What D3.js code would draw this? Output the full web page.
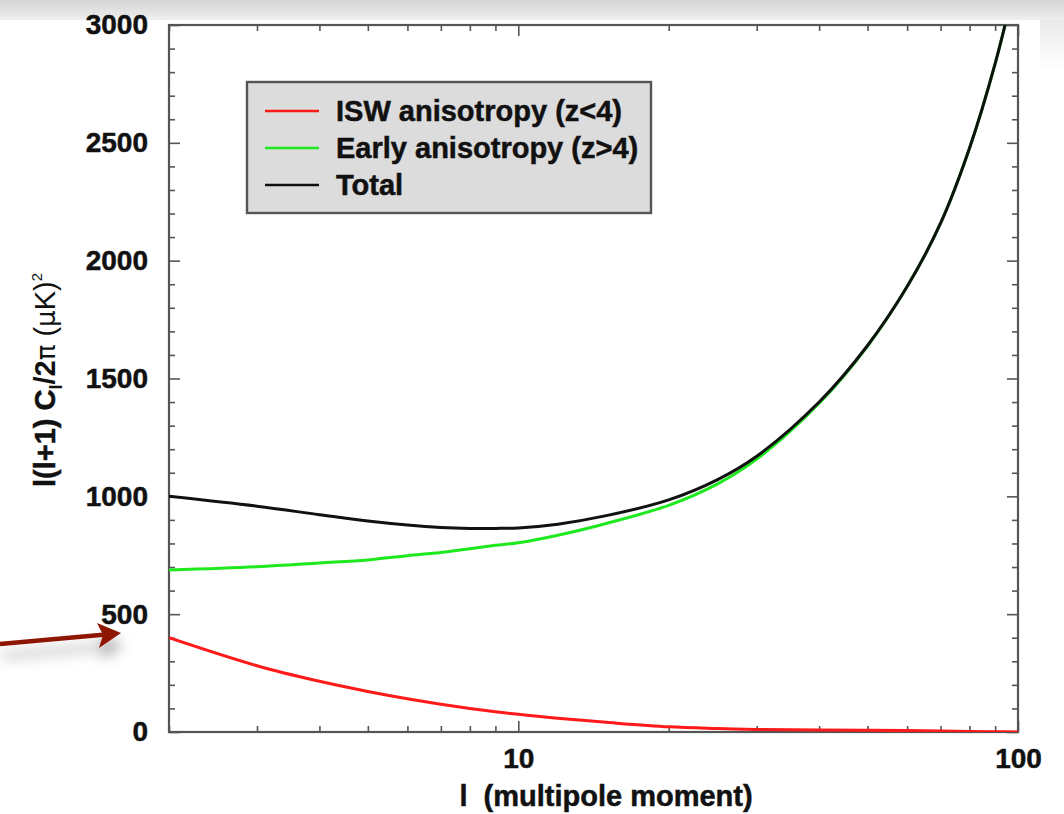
<!DOCTYPE html>
<html>
<head>
<meta charset="utf-8">
<script src="https://cdn.jsdelivr.net/npm/d3@7"></script>
<style>
  body { margin: 0; background: #fff; }
  svg { display: block; }
  text { font-family: "Liberation Sans", Arial, Helvetica, sans-serif; }
</style>
</head>
<body>
<div id="chart"></div>
<script>
// multipole moments and the three spectra
var ells = [2, 3, 4, 5, 6, 7, 8, 9, 10, 12, 15, 20, 25, 30, 40, 50, 60, 70, 80, 90, 100];
var iswVals   = [400, 281, 215, 172, 141, 118, 100, 86, 75, 58, 41, 22, 15, 11, 8, 7, 6, 4, 2, 1, 0];
var earlyVals = [687, 701, 717, 730, 748, 762, 778, 792, 803, 835, 885, 962, 1052, 1158, 1395, 1638, 1890, 2159, 2478, 2836, 3230];
var totalVals = [1000, 958, 922, 895, 878, 868, 864, 864, 866, 882, 918, 985, 1070, 1170, 1400, 1640, 1890, 2159, 2478, 2836, 3230];
var seriesNames = ["ISW anisotropy (z<4)", "Early anisotropy (z>4)", "Total"];
var seriesColors = ["#ff1a1a", "#1ee81e", "#111111"];
var xMajorTicks = [10, 100];
var yMajorTicks = [0, 500, 1000, 1500, 2000, 2500, 3000];

var W = 1064, H = 814;
var pLeft = 169, pRight = 1018, pTop = 25, pBottom = 732;

var svg = d3.select("#chart").append("svg")
    .attr("width", W)
    .attr("height", H);

var defs = svg.append("defs");

// slide shadow at the top
var g1 = defs.append("linearGradient").attr("id", "topShade")
    .attr("x1", 0).attr("y1", 0).attr("x2", 0).attr("y2", 1);
g1.append("stop").attr("offset", "0%").attr("stop-color", "#d4d4d4");
g1.append("stop").attr("offset", "100%").attr("stop-color", "#efefef");
var g2 = defs.append("linearGradient").attr("id", "sideShade")
    .attr("x1", 0).attr("y1", 0).attr("x2", 0).attr("y2", 1);
g2.append("stop").attr("offset", "0%").attr("stop-color", "#e2e2e2");
g2.append("stop").attr("offset", "100%").attr("stop-color", "#ffffff");

defs.append("clipPath").attr("id", "plotClip")
  .append("rect")
    .attr("x", pLeft).attr("y", pTop)
    .attr("width", pRight - pLeft).attr("height", pBottom - pTop);

var blur = defs.append("filter").attr("id", "arrowShadow")
    .attr("x", "-30%").attr("y", "-100%").attr("width", "160%").attr("height", "400%");
blur.append("feDropShadow")
    .attr("dx", 2).attr("dy", 12)
    .attr("stdDeviation", 7)
    .attr("flood-color", "#000")
    .attr("flood-opacity", 0.35);

svg.append("rect").attr("x", 1040).attr("y", 0).attr("width", 24).attr("height", 70)
    .attr("fill", "url(#sideShade)");
svg.append("rect").attr("x", 0).attr("y", 0).attr("width", W).attr("height", 20)
    .attr("fill", "url(#topShade)");

var x = d3.scaleLog().domain([2, 100]).range([pLeft, pRight]);
var y = d3.scaleLinear().domain([0, 3000]).range([pBottom, pTop]);

var isMajorX = function (d) { return xMajorTicks.indexOf(d) >= 0; };
var xMinor = x.ticks().filter(function (d) { return !isMajorX(d); });
var yMinor = d3.range(0, 3001, 100).filter(function (d) { return d % 500 !== 0; });

function heavy(sel) {
  sel.attr("fill", "#111")
    .attr("stroke", "#111")
    .attr("stroke-width", 0.5)
    .style("font-weight", "bold");
}

function styleAxis(g) {
  g.select(".domain").remove();
  g.selectAll("line").attr("stroke", "#555").attr("stroke-width", 1.6);
  g.selectAll("text")
    .style("font-size", "28px")
    .call(heavy);
}

// bottom
svg.append("g").attr("transform", "translate(0," + pBottom + ")")
    .call(d3.axisBottom(x).tickValues(xMinor).tickSizeInner(-6).tickSizeOuter(0).tickFormat(""))
    .call(styleAxis);
svg.append("g").attr("transform", "translate(0," + pBottom + ")")
    .call(d3.axisBottom(x).tickValues(xMajorTicks).tickSizeInner(-11).tickSizeOuter(0)
      .tickPadding(16).tickFormat(d3.format("d")))
    .call(styleAxis);
// top
svg.append("g").attr("transform", "translate(0," + pTop + ")")
    .call(d3.axisTop(x).tickValues(xMinor).tickSizeInner(-6).tickSizeOuter(0).tickFormat(""))
    .call(styleAxis);
svg.append("g").attr("transform", "translate(0," + pTop + ")")
    .call(d3.axisTop(x).tickValues(xMajorTicks).tickSizeInner(-11).tickSizeOuter(0).tickFormat(""))
    .call(styleAxis);
// left
svg.append("g").attr("transform", "translate(" + pLeft + ",0)")
    .call(d3.axisLeft(y).tickValues(yMinor).tickSizeInner(-6).tickSizeOuter(0).tickFormat(""))
    .call(styleAxis);
svg.append("g").attr("transform", "translate(" + pLeft + ",0)")
    .call(d3.axisLeft(y).tickValues(yMajorTicks).tickSizeInner(-11).tickSizeOuter(0)
      .tickPadding(21).tickFormat(d3.format("d")))
    .call(styleAxis);
// right
svg.append("g").attr("transform", "translate(" + pRight + ",0)")
    .call(d3.axisRight(y).tickValues(yMinor).tickSizeInner(-6).tickSizeOuter(0).tickFormat(""))
    .call(styleAxis);
svg.append("g").attr("transform", "translate(" + pRight + ",0)")
    .call(d3.axisRight(y).tickValues(yMajorTicks).tickSizeInner(-11).tickSizeOuter(0).tickFormat(""))
    .call(styleAxis);

// frame
svg.append("rect")
    .attr("x", pLeft).attr("y", pTop)
    .attr("width", pRight - pLeft).attr("height", pBottom - pTop)
    .attr("fill", "none")
    .attr("stroke", "#555")
    .attr("stroke-width", 2.2);

// curves
var allSeries = [iswVals, earlyVals, totalVals];
var line = d3.line()
    .x(function (d) { return x(d[0]); })
    .y(function (d) { return y(d[1]); })
    .curve(d3.curveCatmullRom.alpha(0.5));

var curves = svg.append("g").attr("clip-path", "url(#plotClip)");
allSeries.forEach(function (vals, i) {
  curves.append("path")
    .datum(ells.map(function (l, j) { return [l, vals[j]]; }))
    .attr("d", line)
    .attr("fill", "none")
    .attr("stroke", seriesColors[i])
    .attr("stroke-width", 3)
    .attr("stroke-linejoin", "round");
});

// legend
var legend = svg.append("g").attr("transform", "translate(247,82)");
legend.append("rect")
    .attr("width", 404).attr("height", 131)
    .attr("fill", "#dcdcdc")
    .attr("stroke", "#555")
    .attr("stroke-width", 2.4);
seriesNames.forEach(function (name, i) {
  var ly = 29 + i * 37;
  legend.append("line")
      .attr("x1", 18).attr("x2", 72)
      .attr("y1", ly).attr("y2", ly)
      .attr("stroke", seriesColors[i])
      .attr("stroke-width", 2.6);
  legend.append("text")
      .attr("x", 89).attr("y", ly + 10)
      .style("font-size", "29px")
      .call(heavy)
      .text(name);
});

// axis titles
svg.append("text")
    .attr("x", 606).attr("y", 806)
    .attr("text-anchor", "middle")
    .style("font-size", "29px")
    .call(heavy)
    .text("l\u00a0\u00a0(multipole moment)");

var yt = svg.append("text")
    .attr("transform", "translate(55,380) rotate(-90)")
    .attr("text-anchor", "middle")
    .attr("fill", "#111")
    .style("font-size", "29px")
    .style("font-weight", "bold");
yt.append("tspan").attr("stroke", "#111").attr("stroke-width", 0.5).text("l(l+1) C");
yt.append("tspan").attr("dy", 7).style("font-size", "18px").text("l");
yt.append("tspan").attr("dy", -7).text("/2");
yt.append("tspan").style("font-weight", "normal").style("font-family", "DejaVu Sans").style("font-size", "26px").text("\u03c0");
yt.append("tspan").style("font-weight", "normal").text(" (");
yt.append("tspan").style("font-weight", "normal").style("font-family", "DejaVu Sans").style("font-size", "26px").text("\u03bc");
yt.append("tspan").style("font-weight", "normal").text("K)");
yt.append("tspan").attr("dy", -13).style("font-weight", "normal").style("font-size", "15px").text("2");

// annotation arrow pointing at the ISW start value
var tipX = 121, tipY = y(420);
var arrow = svg.append("g").attr("filter", "url(#arrowShadow)");
arrow.append("line")
    .attr("x1", 0).attr("y1", tipY + 11)
    .attr("x2", tipX - 18).attr("y2", tipY + 1.8)
    .attr("stroke", "#8e1406")
    .attr("stroke-width", 4.5);
arrow.append("path")
    .attr("d", "M" + tipX + "," + tipY +
               "L" + (tipX - 24) + "," + (tipY - 10) +
               "L" + (tipX - 18) + "," + (tipY + 1.8) +
               "L" + (tipX - 22) + "," + (tipY + 15) + "Z")
    .attr("fill", "#8e1406");
</script>
</body>
</html>
